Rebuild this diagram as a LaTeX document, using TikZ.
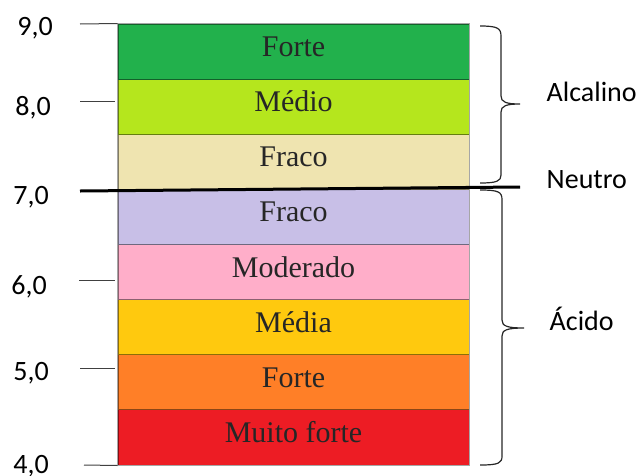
\documentclass[tikz,border=0pt]{standalone}
\usepackage{fontspec}
\setmainfont{Liberation Serif}
\newfontfamily\rotulofont{Carlito}
\usepackage{tikz}
\usetikzlibrary{positioning}
\definecolor{verdeforte}{HTML}{22B14C}
\definecolor{verdelima}{HTML}{B5E61D}
\definecolor{bege}{HTML}{EFE4B0}
\definecolor{lilas}{HTML}{C8BFE7}
\definecolor{rosa}{HTML}{FFAEC9}
\definecolor{amarelo}{HTML}{FFC90E}
\definecolor{laranja}{HTML}{FF7F27}
\definecolor{vermelho}{HTML}{ED1C24}

\begin{document}
\begin{tikzpicture}[x=0.75pt, y=-0.75pt,
  faixa/.style={draw=#1!55!black, fill=#1, line width=0.75pt, minimum width=263.25pt,
    minimum height=41.34pt, inner sep=0pt, text height=15pt, text depth=7.5pt,
    font=\fontsize{22.5}{27}\selectfont, text=black!85},
  escala/.style={font=\rotulofont\fontsize{21}{25}\selectfont, anchor=base},
  lado/.style={font=\rotulofont\fontsize{21}{25}\selectfont, anchor=base west},
  marca/.style={draw=black!75, line width=0.75pt},
  chave/.style={draw=black!85, line width=0.9pt}]
  \useasboundingbox (0,0) rectangle (638,475);

  % Faixas de pH (de baixo para cima)
  \node[faixa=vermelho] (muitoforte) at (293.5,437.44) {Muito forte};
  \node[faixa=laranja] (acforte) at (293.5,382.31) {Forte};
  \node[faixa=amarelo] (media) at (293.5,327.19) {Média};
  \node[faixa=rosa] (moderado) at (293.5,272.06) {Moderado};
  \node[faixa=lilas] (acfraco) at (293.5,216.94) {Fraco};
  \node[faixa=bege] (alfraco) at (293.5,161.81) {Fraco};
  \node[faixa=verdelima] (medio) at (293.5,106.69) {Médio};
  \node[faixa=verdeforte] (alforte) at (293.5,51.56) {Forte};
  \draw[gray!70, line width=0.75pt] (alforte.north west) rectangle (muitoforte.south east);

  % Escala
  \node[escala] (r9) at (35,35) {9,0};
  \node[escala] (r8) at (33,115) {8,0};
  \node[escala] (r7) at (31,204) {7,0};
  \node[escala] (r6) at (29,294) {6,0};
  \node[escala] (r5) at (31,380) {5,0};
  \node[escala] (r4) at (31,473) {4,0};
  \draw[marca] (80,24) -- (alforte.north west);
  \draw[marca] (80,101) -- (115,101);
  \draw[marca] (79,280) -- (115,280);
  \draw[marca] (80,368) -- (115,368);
  \draw[marca] (84,465) -- (muitoforte.south west);

  % Linha neutra
  \draw[line width=2.25pt] (80,191) -- (520,187);

  % Chaves
  \draw[chave] (480,26) .. controls (497,26) and (501,28) .. (501,36) -- (501,96)
    .. controls (501,102) and (506,104) .. (520,104)
    .. controls (506,104) and (501,106) .. (501,112) -- (501,175)
    .. controls (501,181) and (497,183) .. (480,183);
  \draw[chave] (480,190) .. controls (499,190) and (502,192) .. (502,200) -- (502,320)
    .. controls (502,326) and (507,328) .. (524,328)
    .. controls (507,328) and (502,330) .. (502,336) -- (502,456)
    .. controls (502,463) and (499,465) .. (480,465);

  \node[lado] (alcalino) at (542,101) {Alcalino};
  \node[lado] (neutro) at (542,188) {Neutro};
  \node[lado] (acido) at (545,330) {Ácido};
\end{tikzpicture}
\end{document}
